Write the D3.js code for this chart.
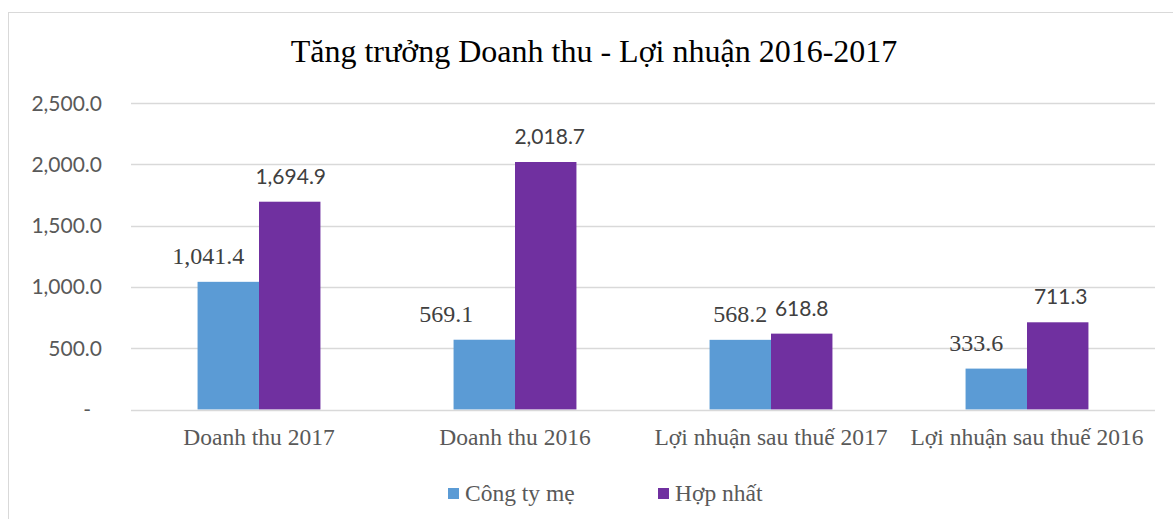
<!DOCTYPE html>
<html>
<head>
<meta charset="utf-8">
<script src="https://cdn.jsdelivr.net/npm/d3@7"></script>
<style>
  html, body { margin: 0; padding: 0; background: #fff; }
  svg { display: block; }
</style>
</head>
<body>
<svg id="chart" width="1173" height="519"></svg>
<script>
// data
const categories = ['Doanh thu 2017', 'Doanh thu 2016', 'Lợi nhuận sau thuế 2017', 'Lợi nhuận sau thuế 2016'];
const seriesNames = ['Công ty mẹ', 'Hợp nhất'];
const congTyMe = [1041.4, 569.1, 568.2, 333.6];
const hopNhat = [1694.9, 2018.7, 618.8, 711.3];
const yTicks = [0, 500, 1000, 1500, 2000, 2500];
const title = 'Tăng trưởng Doanh thu - Lợi nhuận 2016-2017';

// the parent-company labels were hand-dragged in the original
const labelShift = [[-20, -38, 0, -20], [1, 4, 0, 3]];

const serif = "'Liberation Serif', 'Times New Roman', serif";
const sans = "Lato, 'Liberation Sans', sans-serif";
const grey = '#595959', dark = '#404040', rule = '#d9d9d9';
const colors = ['#5b9bd5', '#7030a0'];

const svg = d3.select('#chart');
const plot = { left: 131, right: 1155, top: 103, bottom: 409.5 };

// chart frame (runs off the right/bottom edge like the screenshot)
svg.append('rect').attr('x', 8.5).attr('y', 12.5).attr('width', 1185).attr('height', 520)
  .attr('fill', '#fff').attr('stroke', rule).attr('stroke-width', 1);

svg.append('text').attr('x', 594).attr('y', 62)
  .attr('text-anchor', 'middle').style('font-family', serif).attr('font-size', 32)
  .attr('fill', '#000').text(title);

const x0 = d3.scaleBand().domain(categories).range([plot.left, plot.right]);
const groupW = x0.bandwidth() * 0.48;
const x1 = d3.scaleBand().domain(seriesNames).range([0, groupW]);
const y = d3.scaleLinear().domain([0, 2500]).range([plot.bottom, plot.top]);

// gridlines
svg.append('g').selectAll('line').data(yTicks.filter(d => d > 0)).join('line')
  .attr('x1', plot.left).attr('x2', plot.right)
  .attr('y1', d => Math.round(y(d)) + 0.5).attr('y2', d => Math.round(y(d)) + 0.5)
  .attr('stroke', rule).attr('stroke-width', 1.3);

// y axis labels
const fmt = d3.format(',.1f');
svg.append('g').selectAll('text').data(yTicks).join('text')
  .attr('x', d => d === 0 ? 91 : 102).attr('y', d => y(d)).attr('dy', '0.36em')
  .attr('text-anchor', 'end').style('font-family', sans).attr('font-size', 21)
  .attr('fill', grey).text(d => d === 0 ? '-' : fmt(d));

// bars + value labels
const series = [congTyMe, hopNhat];
series.forEach((vals, si) => {
  const g = svg.append('g');
  const bx = i => x0(categories[i]) + (x0.bandwidth() - groupW) / 2 + x1(seriesNames[si]);
  g.selectAll('rect').data(vals).join('rect')
    .attr('x', (d, i) => bx(i))
    .attr('width', x1.bandwidth())
    .attr('y', d => y(d)).attr('height', d => y(0) - y(d))
    .attr('fill', colors[si]);
  g.selectAll('text').data(vals).join('text')
    .attr('x', (d, i) => bx(i) + x1.bandwidth() / 2 + labelShift[si][i])
    .attr('y', d => y(d) - 18)
    .attr('text-anchor', 'middle')
    .style('font-family', si === 0 ? serif : sans)
    .attr('font-size', si === 0 ? 24 : 21)
    .attr('fill', dark)
    .text(d => fmt(d));
});

// baseline
svg.append('line').attr('x1', plot.left).attr('x2', plot.right)
  .attr('y1', Math.round(y(0)) + 0.5).attr('y2', Math.round(y(0)) + 0.5)
  .attr('stroke', rule).attr('stroke-width', 1.3);

// category labels
svg.append('g').selectAll('text').data(categories).join('text')
  .attr('x', d => x0(d) + x0.bandwidth() / 2).attr('y', 445)
  .attr('text-anchor', 'middle').style('font-family', serif).attr('font-size', 23.5)
  .attr('fill', grey).text(d => d);

// legend
const legendX = [448, 658];
const lg = svg.append('g');
seriesNames.forEach((name, i) => {
  lg.append('rect').attr('x', legendX[i]).attr('y', 488).attr('width', 11).attr('height', 11)
    .attr('fill', colors[i]);
  lg.append('text').attr('x', legendX[i] + 17).attr('y', 501)
    .style('font-family', serif).attr('font-size', 23.5).attr('fill', grey).text(name);
});
</script>
</body>
</html>
